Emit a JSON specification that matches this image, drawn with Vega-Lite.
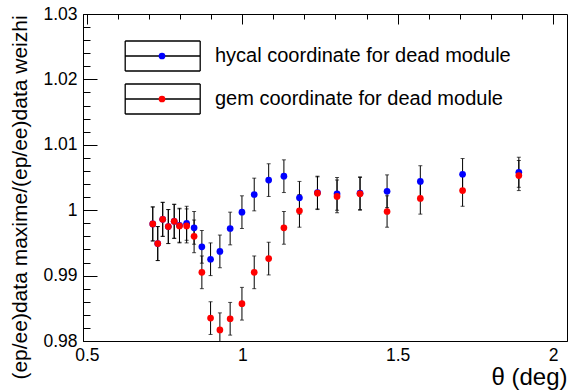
{
  "$schema": "https://vega.github.io/schema/vega-lite/v6.json",
  "width": 484,
  "height": 327,
  "autosize": {"type": "none"},
  "padding": {"left": 83, "top": 14, "right": 2, "bottom": 51},
  "background": "white",
  "config": {
    "view": {"stroke": "black", "strokeWidth": 1},
    "font": "Liberation Sans",
    "axis": {
      "domainColor": "black",
      "labelColor": "black",
      "titleColor": "black",
      "labelFont": "Liberation Sans",
      "titleFont": "Liberation Sans",
      "titleFontWeight": "normal",
      "gridColor": "black",
      "gridOpacity": 1,
      "gridWidth": 1
    }
  },
  "data": {
    "values": [
      {"theta": 0.712, "ratio": 0.9979, "err": 0.0026, "series": "hycal coordinate for dead module", "box": "hycal coordinate for dead module"},
      {"theta": 0.728, "ratio": 0.9949, "err": 0.0026, "series": "hycal coordinate for dead module", "box": "hycal coordinate for dead module"},
      {"theta": 0.744, "ratio": 0.9986, "err": 0.0026, "series": "hycal coordinate for dead module", "box": "hycal coordinate for dead module"},
      {"theta": 0.762, "ratio": 0.9975, "err": 0.0026, "series": "hycal coordinate for dead module", "box": "hycal coordinate for dead module"},
      {"theta": 0.781, "ratio": 0.9983, "err": 0.0026, "series": "hycal coordinate for dead module", "box": "hycal coordinate for dead module"},
      {"theta": 0.798, "ratio": 0.9977, "err": 0.0026, "series": "hycal coordinate for dead module", "box": "hycal coordinate for dead module"},
      {"theta": 0.821, "ratio": 0.9980, "err": 0.0026, "series": "hycal coordinate for dead module", "box": "hycal coordinate for dead module"},
      {"theta": 0.845, "ratio": 0.9973, "err": 0.0025, "series": "hycal coordinate for dead module", "box": "hycal coordinate for dead module"},
      {"theta": 0.870, "ratio": 0.9944, "err": 0.0025, "series": "hycal coordinate for dead module", "box": "hycal coordinate for dead module"},
      {"theta": 0.898, "ratio": 0.9925, "err": 0.0025, "series": "hycal coordinate for dead module", "box": "hycal coordinate for dead module"},
      {"theta": 0.928, "ratio": 0.9937, "err": 0.0025, "series": "hycal coordinate for dead module", "box": "hycal coordinate for dead module"},
      {"theta": 0.961, "ratio": 0.9972, "err": 0.0025, "series": "hycal coordinate for dead module", "box": "hycal coordinate for dead module"},
      {"theta": 0.999, "ratio": 0.9997, "err": 0.0025, "series": "hycal coordinate for dead module", "box": "hycal coordinate for dead module"},
      {"theta": 1.0385, "ratio": 1.0024, "err": 0.0025, "series": "hycal coordinate for dead module", "box": "hycal coordinate for dead module"},
      {"theta": 1.085, "ratio": 1.0046, "err": 0.0025, "series": "hycal coordinate for dead module", "box": "hycal coordinate for dead module"},
      {"theta": 1.134, "ratio": 1.0052, "err": 0.0025, "series": "hycal coordinate for dead module", "box": "hycal coordinate for dead module"},
      {"theta": 1.184, "ratio": 1.0019, "err": 0.0025, "series": "hycal coordinate for dead module", "box": "hycal coordinate for dead module"},
      {"theta": 1.242, "ratio": 1.0027, "err": 0.0025, "series": "hycal coordinate for dead module", "box": "hycal coordinate for dead module"},
      {"theta": 1.305, "ratio": 1.0025, "err": 0.0025, "series": "hycal coordinate for dead module", "box": "hycal coordinate for dead module"},
      {"theta": 1.379, "ratio": 1.0026, "err": 0.0025, "series": "hycal coordinate for dead module", "box": "hycal coordinate for dead module"},
      {"theta": 1.466, "ratio": 1.0029, "err": 0.0025, "series": "hycal coordinate for dead module", "box": "hycal coordinate for dead module"},
      {"theta": 1.573, "ratio": 1.0044, "err": 0.0024, "series": "hycal coordinate for dead module", "box": "hycal coordinate for dead module"},
      {"theta": 1.709, "ratio": 1.0055, "err": 0.0024, "series": "hycal coordinate for dead module", "box": "hycal coordinate for dead module"},
      {"theta": 1.890, "ratio": 1.0058, "err": 0.0023, "series": "hycal coordinate for dead module", "box": "hycal coordinate for dead module"},
      {"theta": 0.712, "ratio": 0.9979, "err": 0.0026, "series": "gem coordinate for dead module", "box": "gem coordinate for dead module"},
      {"theta": 0.728, "ratio": 0.9949, "err": 0.0026, "series": "gem coordinate for dead module", "box": "gem coordinate for dead module"},
      {"theta": 0.744, "ratio": 0.9986, "err": 0.0026, "series": "gem coordinate for dead module", "box": "gem coordinate for dead module"},
      {"theta": 0.762, "ratio": 0.9975, "err": 0.0026, "series": "gem coordinate for dead module", "box": "gem coordinate for dead module"},
      {"theta": 0.781, "ratio": 0.9983, "err": 0.0026, "series": "gem coordinate for dead module", "box": "gem coordinate for dead module"},
      {"theta": 0.798, "ratio": 0.9976, "err": 0.0026, "series": "gem coordinate for dead module", "box": "gem coordinate for dead module"},
      {"theta": 0.821, "ratio": 0.9976, "err": 0.0026, "series": "gem coordinate for dead module", "box": "gem coordinate for dead module"},
      {"theta": 0.845, "ratio": 0.9960, "err": 0.0025, "series": "gem coordinate for dead module", "box": "gem coordinate for dead module"},
      {"theta": 0.870, "ratio": 0.9905, "err": 0.0025, "series": "gem coordinate for dead module", "box": "gem coordinate for dead module"},
      {"theta": 0.898, "ratio": 0.9835, "err": 0.0025, "series": "gem coordinate for dead module", "box": "gem coordinate for dead module"},
      {"theta": 0.928, "ratio": 0.9817, "err": 0.0026, "series": "gem coordinate for dead module", "box": "gem coordinate for dead module"},
      {"theta": 0.961, "ratio": 0.9834, "err": 0.0025, "series": "gem coordinate for dead module", "box": "gem coordinate for dead module"},
      {"theta": 0.999, "ratio": 0.9857, "err": 0.0025, "series": "gem coordinate for dead module", "box": "gem coordinate for dead module"},
      {"theta": 1.0385, "ratio": 0.9905, "err": 0.0025, "series": "gem coordinate for dead module", "box": "gem coordinate for dead module"},
      {"theta": 1.085, "ratio": 0.9926, "err": 0.0025, "series": "gem coordinate for dead module", "box": "gem coordinate for dead module"},
      {"theta": 1.134, "ratio": 0.9973, "err": 0.0025, "series": "gem coordinate for dead module", "box": "gem coordinate for dead module"},
      {"theta": 1.184, "ratio": 0.9999, "err": 0.0025, "series": "gem coordinate for dead module", "box": "gem coordinate for dead module"},
      {"theta": 1.242, "ratio": 1.0026, "err": 0.0025, "series": "gem coordinate for dead module", "box": "gem coordinate for dead module"},
      {"theta": 1.305, "ratio": 1.0021, "err": 0.0025, "series": "gem coordinate for dead module", "box": "gem coordinate for dead module"},
      {"theta": 1.379, "ratio": 1.0025, "err": 0.0025, "series": "gem coordinate for dead module", "box": "gem coordinate for dead module"},
      {"theta": 1.466, "ratio": 0.9998, "err": 0.0024, "series": "gem coordinate for dead module", "box": "gem coordinate for dead module"},
      {"theta": 1.573, "ratio": 1.0018, "err": 0.0024, "series": "gem coordinate for dead module", "box": "gem coordinate for dead module"},
      {"theta": 1.709, "ratio": 1.0030, "err": 0.0024, "series": "gem coordinate for dead module", "box": "gem coordinate for dead module"},
      {"theta": 1.890, "ratio": 1.0053, "err": 0.0023, "series": "gem coordinate for dead module", "box": "gem coordinate for dead module"}
    ]
  },
  "layer": [
    {
      "mark": {"type": "errorbar", "ticks": {"size": 4}, "thickness": 1, "clip": true},
      "encoding": {
        "x": {
          "field": "theta", "type": "quantitative",
          "scale": {"domain": [0.4875, 2.045], "nice": false, "zero": false},
          "axis": {
            "orient": "bottom",
            "values": [0.5, 1, 1.5, 2],
            "format": "~g",
            "ticks": false,
            "grid": true,
            "gridDash": [10, 1000],
            "labelFontSize": 17.5,
            "labelPadding": 5,
            "labelFlush": false,
            "labelOverlap": false,
            "title": "θ (deg)",
            "titleFontSize": 24,
            "titleAnchor": "end",
            "titleAlign": "right",
            "titleX": 484,
            "titlePadding": 2
          }
        },
        "y": {
          "field": "ratio", "type": "quantitative",
          "scale": {"domain": [0.98, 1.03], "nice": false, "zero": false},
          "axis": {
            "orient": "left",
            "values": [0.98, 0.99, 1, 1.01, 1.02, 1.03],
            "format": "~g",
            "ticks": false,
            "grid": true,
            "gridDash": [14, 1000],
            "labelFontSize": 17.5,
            "labelPadding": 6,
            "labelFlush": false,
            "labelOverlap": false,
            "title": "(ep/ee)data maxime/(ep/ee)data weizhi",
            "titleFontSize": 21,
            "titleAngle": -90,
            "titleX": -63,
            "titleY": 183,
            "titleAlign": "center",
            "titleBaseline": "middle"
          }
        },
        "yError": {"field": "err"},
        "color": {
          "field": "box", "type": "nominal",
          "scale": {"domain": ["hycal coordinate for dead module", "gem coordinate for dead module"], "range": ["black", "black"]},
          "legend": {
            "orient": "none",
            "legendX": 63.7,
            "legendY": 26,
            "direction": "vertical",
            "title": null,
            "padding": 0,
            "symbolType": "M-2.5,-1H2.5H-2.5 M-2.5,1H2.5H-2.5 M-2.5,-1V1V-1 M2.5,-1V1V-1 M-2.5,0H2.5H-2.5",
            "symbolSize": 900,
            "symbolStrokeWidth": 1.3,
            "symbolStrokeColor": "black",
            "labelExpr": "''",
            "rowPadding": 7,
            "encode": {
              "symbols": {
                "update": {
                  "stroke": {"value": "black"},
                  "strokeWidth": {"value": 1.3},
                  "opacity": {"value": 1}
                }
              }
            }
          }
        }
      }
    },
    {
      "mark": {"type": "point", "filled": true, "size": 45, "opacity": 1, "clip": true},
      "encoding": {
        "x": {
          "field": "theta", "type": "quantitative",
          "scale": {"domain": [0.4875, 2.045], "nice": false, "zero": false},
          "axis": {
            "orient": "bottom",
            "values": [0.6, 0.7, 0.8, 0.9, 1.1, 1.2, 1.3, 1.4, 1.6, 1.7, 1.8, 1.9],
            "ticks": false,
            "grid": true,
            "gridDash": [5, 1000],
            "labels": false,
            "domain": false,
            "title": null
          }
        },
        "y": {
          "field": "ratio", "type": "quantitative",
          "scale": {"domain": [0.98, 1.03], "nice": false, "zero": false},
          "axis": {
            "orient": "left",
            "values": [0.982, 0.984, 0.986, 0.988, 0.992, 0.994, 0.996, 0.998, 1.002, 1.004, 1.006, 1.008, 1.012, 1.014, 1.016, 1.018, 1.022, 1.024, 1.026, 1.028],
            "ticks": false,
            "grid": true,
            "gridDash": [7, 1000],
            "labels": false,
            "domain": false,
            "title": null
          }
        },
        "color": {
          "field": "series", "type": "nominal",
          "scale": {"domain": ["hycal coordinate for dead module", "gem coordinate for dead module"], "range": ["#0000ff", "#ff0000"]},
          "legend": {
            "orient": "none",
            "legendX": 69,
            "legendY": 32,
            "direction": "vertical",
            "title": null,
            "padding": 0,
            "symbolType": "circle",
            "symbolSize": 45,
            "labelFontSize": 20,
            "labelFont": "Liberation Sans",
            "labelColor": "black",
            "labelOffset": 43,
            "labelLimit": 400,
            "rowPadding": 23,
            "encode": {
              "symbols": {
                "update": {
                  "strokeWidth": {"value": 0},
                  "opacity": {"value": 1}
                }
              }
            }
          }
        }
      }
    }
  ],
  "resolve": {
    "scale": {"color": "independent"},
    "axis": {"x": "independent", "y": "independent"}
  }
}
